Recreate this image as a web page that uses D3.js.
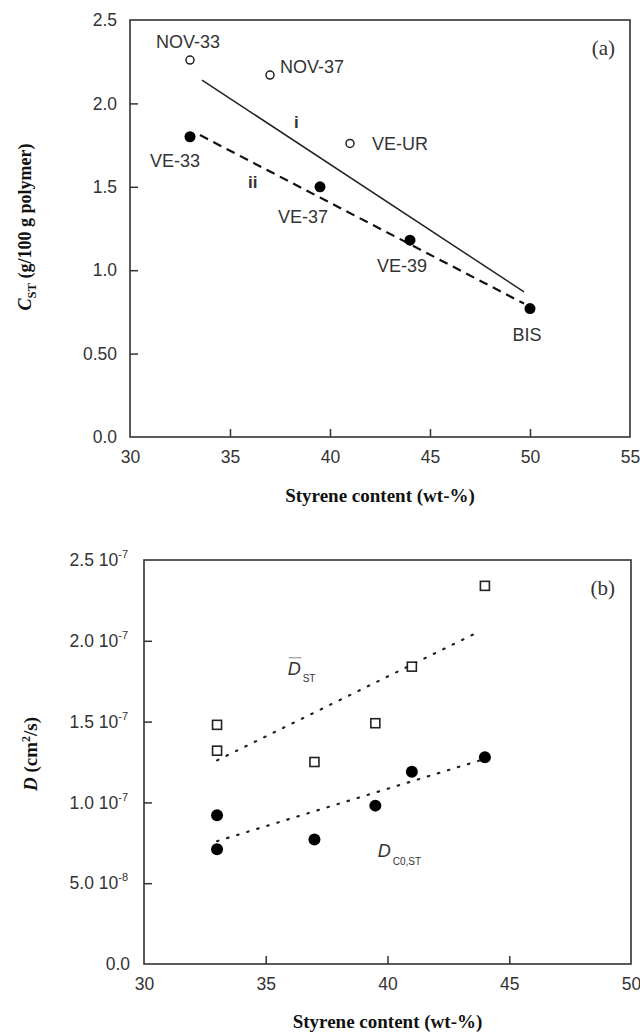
<!DOCTYPE html>
<html>
<head>
<meta charset="utf-8">
<script src="https://cdn.jsdelivr.net/npm/d3@7"></script>
<style>
  body { margin: 0; background: #fff; }
  .tick text { font-family: "Liberation Sans", Arial, sans-serif; }
</style>
</head>
<body>
<div id="chart"></div>
<script>
// ---- panel (a) data ----
const xTicksA = [30, 35, 40, 45, 50, 55];
const yTicksA = [0, 0.5, 1.0, 1.5, 2.0, 2.5];
const yTickLabelsA = ["0.0", "0.50", "1.0", "1.5", "2.0", "2.5"];

const openNames = ["NOV-33", "NOV-37", "VE-UR"];
const openX = [33, 37, 41];
const openY = [2.26, 2.17, 1.76];

const filledNames = ["VE-33", "VE-37", "VE-39", "BIS"];
const filledX = [33, 39.5, 44, 50];
const filledY = [1.80, 1.50, 1.18, 0.77];

const lineIX = [33.6, 49.7];
const lineIY = [2.14, 0.87];
const lineIIX = [33.5, 49.7];
const lineIIY = [1.81, 0.80];

// ---- panel (b) data ----
const xTicksB = [30, 35, 40, 45, 50];
const yTicksB = [0, 0.5e-7, 1.0e-7, 1.5e-7, 2.0e-7, 2.5e-7];
const yTickMantB = ["0.0", "5.0 10", "1.0 10", "1.5 10", "2.0 10", "2.5 10"];
const yTickExpB = ["", "-8", "-7", "-7", "-7", "-7"];

const dBarX = [33, 33, 37, 39.5, 41, 44];
const dBarY = [1.48e-7, 1.32e-7, 1.25e-7, 1.49e-7, 1.84e-7, 2.34e-7];
const dC0X = [33, 33, 37, 39.5, 41, 44];
const dC0Y = [0.92e-7, 0.71e-7, 0.77e-7, 0.98e-7, 1.19e-7, 1.28e-7];

const fitBarX = [33, 43.8];
const fitBarY = [1.26e-7, 2.06e-7];
const fitC0X = [33, 43.8];
const fitC0Y = [0.76e-7, 1.26e-7];

// label offsets (px) for panel (a) point labels
const openOffsets = [[-2, -12, "middle"], [10, -2, "start"], [22, 7, "start"]];
const filledOffsets = [[-15, 30, "middle"], [-17, 36, "middle"], [-8, 32, "middle"], [-3, 32, "middle"]];

const axisColor = "#333";
const textColor = "#333";
const sans = "'Liberation Sans', Arial, sans-serif";
const serif = "'Liberation Serif', 'Times New Roman', serif";

const svg = d3.select("#chart").append("svg")
    .attr("width", 640).attr("height", 1035);

const zip = (xs, ys) => xs.map((x, i) => ({ x, y: ys[i], i }));

function frame(g, w, h) {
    g.append("rect").attr("width", w).attr("height", h)
        .attr("fill", "none").attr("stroke", axisColor).attr("stroke-width", 1.6);
}

function styleAxis(ax) {
    ax.select(".domain").remove();
    ax.selectAll(".tick line").attr("stroke", axisColor).attr("stroke-width", 1.5);
    ax.selectAll(".tick text").attr("fill", textColor).attr("font-size", 17.5);
}

// ================= panel (a) =================
const A = { left: 130, top: 20, w: 500, h: 417 };
const xA = d3.scaleLinear().domain([30, 55]).range([0, A.w]);
const yA = d3.scaleLinear().domain([0, 2.5]).range([A.h, 0]);
const gA = svg.append("g").attr("transform", `translate(${A.left},${A.top})`);

const axXA = gA.append("g").attr("transform", `translate(0,${A.h})`)
    .call(d3.axisBottom(xA).tickValues(xTicksA).tickSizeInner(-8).tickSizeOuter(0).tickPadding(14));
styleAxis(axXA);
axXA.selectAll(".tick").filter(d => d === 30 || d === 55).select("line").remove();

const axYA = gA.append("g")
    .call(d3.axisLeft(yA).tickValues(yTicksA).tickSizeInner(-8).tickSizeOuter(0).tickPadding(13)
        .tickFormat((d, i) => yTickLabelsA[i]));
styleAxis(axYA);
axYA.selectAll(".tick").filter(d => d === 0 || d === 2.5).select("line").remove();
frame(gA, A.w, A.h);

const lineA = d3.line().x(d => xA(d.x)).y(d => yA(d.y));
gA.append("path").datum(zip(lineIX, lineIY)).attr("d", lineA)
    .attr("fill", "none").attr("stroke", "#222").attr("stroke-width", 1.5);
gA.append("path").datum(zip(lineIIX, lineIIY)).attr("d", lineA)
    .attr("fill", "none").attr("stroke", "#111").attr("stroke-width", 2.2)
    .attr("stroke-dasharray", "9,6");

gA.selectAll("circle.open").data(zip(openX, openY)).join("circle")
    .attr("class", "open").attr("cx", d => xA(d.x)).attr("cy", d => yA(d.y)).attr("r", 4)
    .attr("fill", "#fff").attr("stroke", "#222").attr("stroke-width", 1.5);
gA.selectAll("circle.filled").data(zip(filledX, filledY)).join("circle")
    .attr("class", "filled").attr("cx", d => xA(d.x)).attr("cy", d => yA(d.y)).attr("r", 5.5)
    .attr("fill", "#000");

gA.selectAll("text.openLab").data(zip(openX, openY)).join("text")
    .attr("class", "openLab")
    .attr("x", d => xA(d.x) + openOffsets[d.i][0]).attr("y", d => yA(d.y) + openOffsets[d.i][1])
    .attr("text-anchor", d => openOffsets[d.i][2])
    .attr("font-family", sans).attr("font-size", 18).attr("fill", textColor)
    .text(d => openNames[d.i]);
gA.selectAll("text.filledLab").data(zip(filledX, filledY)).join("text")
    .attr("class", "filledLab")
    .attr("x", d => xA(d.x) + filledOffsets[d.i][0]).attr("y", d => yA(d.y) + filledOffsets[d.i][1])
    .attr("text-anchor", d => filledOffsets[d.i][2])
    .attr("font-family", sans).attr("font-size", 18).attr("fill", textColor)
    .text(d => filledNames[d.i]);

gA.append("text").attr("x", xA(38.2)).attr("y", yA(1.85))
    .attr("font-family", sans).attr("font-weight", "bold").attr("font-size", 17).attr("fill", textColor)
    .text("i");
gA.append("text").attr("x", xA(35.9)).attr("y", yA(1.49))
    .attr("font-family", sans).attr("font-weight", "bold").attr("font-size", 17).attr("fill", textColor)
    .text("ii");
gA.append("text").attr("x", A.w - 15).attr("y", 35).attr("text-anchor", "end")
    .attr("font-family", serif).attr("font-size", 21).attr("fill", textColor).text("(a)");

gA.append("text").attr("x", A.w / 2).attr("y", A.h + 65).attr("text-anchor", "middle")
    .attr("font-family", serif).attr("font-weight", "bold").attr("font-size", 19).attr("fill", "#111")
    .text("Styrene content (wt-%)");

const yTitleA = svg.append("text")
    .attr("transform", `translate(31,${A.top + 207}) rotate(-90)`)
    .attr("text-anchor", "middle")
    .attr("font-family", serif).attr("font-weight", "bold").attr("font-size", 18).attr("fill", "#111");
yTitleA.append("tspan").attr("font-style", "italic").text("C");
yTitleA.append("tspan").attr("font-size", 12.5).attr("dy", 5).text("ST");
yTitleA.append("tspan").attr("dy", -5).text(" (g/100 g polymer)");

// ================= panel (b) =================
const B = { left: 144, top: 560, w: 487, h: 404 };
const xB = d3.scaleLinear().domain([30, 50]).range([0, B.w]);
const yB = d3.scaleLinear().domain([0, 2.5e-7]).range([B.h, 0]);
const gB = svg.append("g").attr("transform", `translate(${B.left},${B.top})`);

const axXB = gB.append("g").attr("transform", `translate(0,${B.h})`)
    .call(d3.axisBottom(xB).tickValues(xTicksB).tickSizeInner(-8).tickSizeOuter(0).tickPadding(14));
styleAxis(axXB);
axXB.selectAll(".tick").filter(d => d === 30 || d === 50).select("line").remove();

const axYB = gB.append("g")
    .call(d3.axisLeft(yB).tickValues(yTicksB).tickSizeInner(-8).tickSizeOuter(0).tickPadding(16)
        .tickFormat(() => ""));
styleAxis(axYB);
axYB.selectAll(".tick").filter(d => d === 0 || d === 2.5e-7).select("line").remove();
axYB.selectAll(".tick text").each(function (d, i) {
    const t = d3.select(this);
    const hasExp = yTickExpB[i] !== "";
    t.attr("x", hasExp ? -16 : -14);
    t.append("tspan").text(yTickMantB[i]);
    if (hasExp) {
        t.append("tspan").attr("font-size", 11).attr("dy", -8).text(yTickExpB[i]);
    }
});
frame(gB, B.w, B.h);

const lineB = d3.line().x(d => xB(d.x)).y(d => yB(d.y));
gB.append("path").datum(zip(fitBarX, fitBarY)).attr("d", lineB)
    .attr("fill", "none").attr("stroke", "#222").attr("stroke-width", 2.2)
    .attr("stroke-dasharray", "1.5,9").attr("stroke-linecap", "round");
gB.append("path").datum(zip(fitC0X, fitC0Y)).attr("d", lineB)
    .attr("fill", "none").attr("stroke", "#222").attr("stroke-width", 2.2)
    .attr("stroke-dasharray", "1.5,9").attr("stroke-linecap", "round");

gB.selectAll("rect.sq").data(zip(dBarX, dBarY)).join("rect")
    .attr("class", "sq").attr("x", d => xB(d.x) - 4.5).attr("y", d => yB(d.y) - 4.5)
    .attr("width", 9).attr("height", 9)
    .attr("fill", "#fff").attr("stroke", "#222").attr("stroke-width", 1.6);
gB.selectAll("circle.c0").data(zip(dC0X, dC0Y)).join("circle")
    .attr("class", "c0").attr("cx", d => xB(d.x)).attr("cy", d => yB(d.y)).attr("r", 6)
    .attr("fill", "#000");

// D-bar ST label
const dBarLab = gB.append("g").attr("transform", `translate(${xB(35.9)},${yB(1.79e-7)})`);
dBarLab.append("text").attr("font-family", sans).attr("font-style", "italic").attr("font-size", 18)
    .attr("fill", textColor).text("D");
dBarLab.append("line").attr("x1", 1).attr("x2", 14).attr("y1", -17).attr("y2", -17)
    .attr("stroke", "#888").attr("stroke-width", 1);
dBarLab.append("text").attr("x", 15).attr("y", 7).attr("font-family", sans).attr("font-size", 10)
    .attr("fill", textColor).text("ST");

const dC0Lab = gB.append("g").attr("transform", `translate(${xB(39.6)},${yB(0.66e-7)})`);
dC0Lab.append("text").attr("font-family", sans).attr("font-style", "italic").attr("font-size", 18)
    .attr("fill", textColor).text("D");
dC0Lab.append("text").attr("x", 15).attr("y", 8).attr("font-family", sans).attr("font-size", 10)
    .attr("fill", textColor).text("C0,ST");

gB.append("text").attr("x", B.w - 16).attr("y", 35).attr("text-anchor", "end")
    .attr("font-family", serif).attr("font-size", 21).attr("fill", textColor).text("(b)");

gB.append("text").attr("x", B.w / 2).attr("y", B.h + 64).attr("text-anchor", "middle")
    .attr("font-family", serif).attr("font-weight", "bold").attr("font-size", 19).attr("fill", "#111")
    .text("Styrene content (wt-%)");

const yTitleB = svg.append("text")
    .attr("transform", `translate(37,${B.top + 194}) rotate(-90)`)
    .attr("text-anchor", "middle")
    .attr("font-family", serif).attr("font-weight", "bold").attr("font-size", 19).attr("fill", "#111");
yTitleB.append("tspan").attr("font-style", "italic").text("D");
yTitleB.append("tspan").text(" (cm");
yTitleB.append("tspan").attr("font-size", 12).attr("dy", -7).text("2");
yTitleB.append("tspan").attr("dy", 7).text("/s)");
</script>
</body>
</html>
